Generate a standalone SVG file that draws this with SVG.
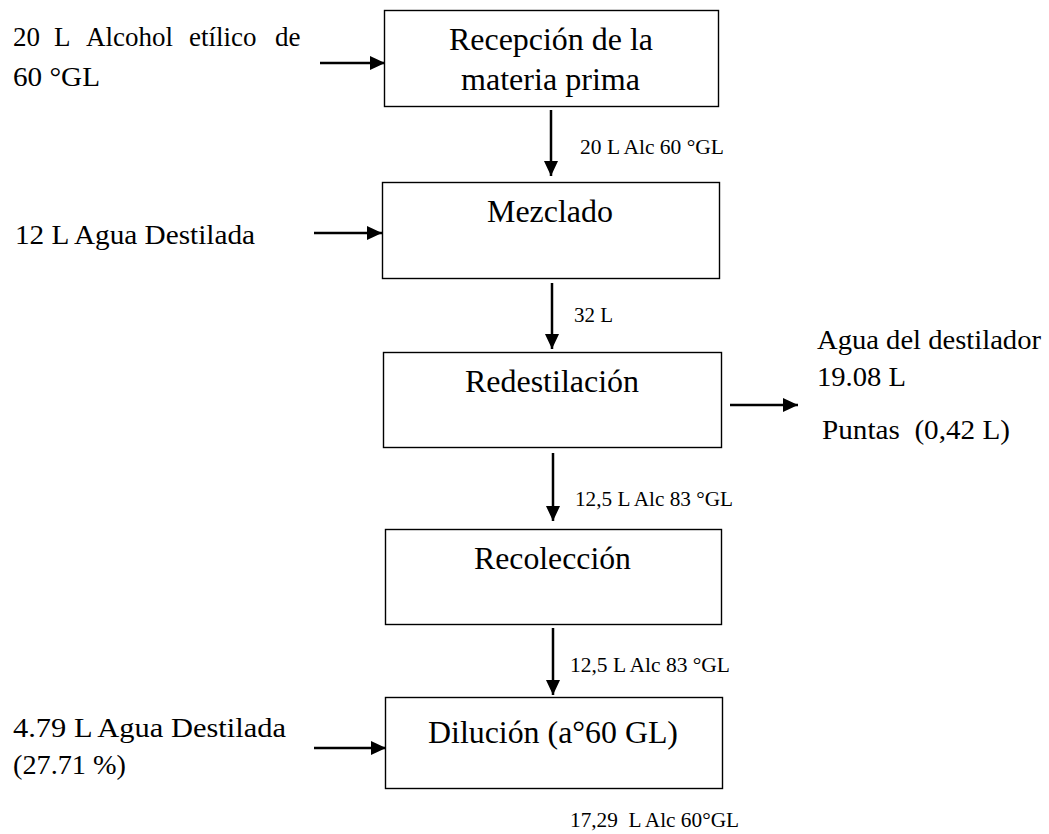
<svg xmlns="http://www.w3.org/2000/svg" width="1049" height="834" viewBox="0 0 1049 834">
<style>
.box{fill:#fff;stroke:#000;stroke-width:1.4}
.bt{font-family:"Liberation Serif","Times New Roman",serif;font-size:31px;fill:#000}
.lt{font-family:"Liberation Serif","Times New Roman",serif;font-size:27px;fill:#000}
.st{font-family:"Liberation Serif","Times New Roman",serif;font-size:20px;fill:#000}
.ar{stroke:#000;stroke-width:2.5;fill:none;marker-end:url(#ah)}
</style>
<defs>
<marker id="ah" markerUnits="userSpaceOnUse" markerWidth="16" markerHeight="16" viewBox="0 0 16 16" refX="15" refY="8" orient="auto">
<path d="M0,1 L15,8 L0,15 Z" fill="#000"/>
</marker>
</defs>
<rect width="1049" height="834" fill="#fff"/>
<g id="n1">
<rect class="box" x="384.5" y="10.5" width="334" height="96"/>
<text class="bt" x="449" y="50" textLength="204" lengthAdjust="spacingAndGlyphs">Recepción de la</text>
<text class="bt" x="461" y="90" textLength="179" lengthAdjust="spacingAndGlyphs">materia prima</text>
</g>
<g id="n2">
<rect class="box" x="382.5" y="182.5" width="337" height="96"/>
<text class="bt" x="487" y="222" textLength="126" lengthAdjust="spacingAndGlyphs">Mezclado</text>
</g>
<g id="n3">
<rect class="box" x="383.5" y="352.5" width="338" height="95"/>
<text class="bt" x="465" y="392" textLength="174" lengthAdjust="spacingAndGlyphs">Redestilación</text>
</g>
<g id="n4">
<rect class="box" x="385.5" y="529.5" width="336" height="95"/>
<text class="bt" x="474" y="569" textLength="157" lengthAdjust="spacingAndGlyphs">Recolección</text>
</g>
<g id="n5">
<rect class="box" x="385.5" y="697.5" width="337" height="91"/>
<text class="bt" x="428" y="743" textLength="250" lengthAdjust="spacingAndGlyphs">Dilución (a°60 GL)</text>
</g>
<g id="labels">
<text class="lt" y="46"><tspan x="13">20</tspan> <tspan x="54">L</tspan> <tspan x="86">Alcohol</tspan> <tspan x="189">etílico</tspan> <tspan x="275">de</tspan></text>
<text class="lt" x="13" y="86" textLength="87" lengthAdjust="spacingAndGlyphs">60 °GL</text>
<text class="lt" x="15" y="244" textLength="240" lengthAdjust="spacingAndGlyphs">12 L Agua Destilada</text>
<text class="lt" x="817" y="349" textLength="224" lengthAdjust="spacingAndGlyphs">Agua del destilador</text>
<text class="lt" x="817" y="386" textLength="89" lengthAdjust="spacingAndGlyphs">19.08 L</text>
<text class="lt" x="822" y="439" textLength="188" lengthAdjust="spacingAndGlyphs" xml:space="preserve">Puntas  (0,42 L)</text>
<text class="lt" x="13" y="737" textLength="273" lengthAdjust="spacingAndGlyphs">4.79 L Agua Destilada</text>
<text class="lt" x="13" y="774" textLength="113" lengthAdjust="spacingAndGlyphs">(27.71 %)</text>
<text class="st" x="580" y="154" textLength="144" lengthAdjust="spacingAndGlyphs">20 L Alc 60 °GL</text>
<text class="st" x="574" y="322" textLength="39" lengthAdjust="spacingAndGlyphs">32 L</text>
<text class="st" x="575" y="506" textLength="158" lengthAdjust="spacingAndGlyphs">12,5 L Alc 83 °GL</text>
<text class="st" x="570" y="672" textLength="160" lengthAdjust="spacingAndGlyphs">12,5 L Alc 83 °GL</text>
<text class="st" x="570" y="827" textLength="169" lengthAdjust="spacingAndGlyphs" xml:space="preserve">17,29  L Alc 60°GL</text>
</g>
<g id="connectors">
<line class="ar" x1="320" y1="63" x2="385" y2="63"/>
<line class="ar" x1="314" y1="233" x2="382" y2="233"/>
<line class="ar" x1="314" y1="748" x2="386" y2="748"/>
<line class="ar" x1="730" y1="405" x2="798" y2="405"/>
<line class="ar" x1="551" y1="110" x2="551" y2="176"/>
<line class="ar" x1="552" y1="283" x2="552" y2="349"/>
<line class="ar" x1="553" y1="453" x2="553" y2="521"/>
<line class="ar" x1="553" y1="628" x2="553" y2="695"/>
</g>
</svg>
